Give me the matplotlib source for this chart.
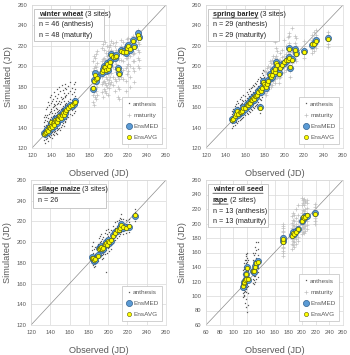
import matplotlib
matplotlib.use("Agg")
import matplotlib.pyplot as plt
from matplotlib.patches import Rectangle

plt.rcParams["font.family"] = ["Liberation Sans", "DejaVu Sans"]

# ---- winter wheat ----
obs_wa = [133, 134, 135, 136, 137, 138, 139, 140, 140, 141, 142, 143, 143, 144, 145, 146,
          146, 147, 148, 149, 150, 151, 152, 153, 154, 155, 156, 158, 160, 162, 164, 165]
med_wa = [135, 134, 137, 139, 136, 140, 142, 141, 144, 140, 143, 146, 142, 148, 145, 149,
          144, 147, 150, 152, 148, 153, 155, 151, 157, 154, 158, 160, 162, 161, 163, 166]
avg_wa = [134, 135, 136, 138, 137, 141, 140, 142, 145, 141, 144, 145, 143, 147, 146, 148,
          145, 148, 151, 150, 149, 152, 154, 152, 156, 155, 157, 159, 161, 162, 164, 165]
mod_wa = [
    [128, 132, 138, 142, 145, 150], [125, 131, 136, 140, 147, 152],
    [129, 134, 139, 143, 150, 158], [130, 135, 141, 146, 152, 160],
    [127, 133, 138, 144, 149, 165], [132, 136, 140, 145, 153, 162],
    [131, 137, 143, 148, 155, 170], [133, 138, 142, 147, 156, 164],
    [135, 140, 146, 150, 158, 172], [130, 136, 141, 149, 154, 166],
    [134, 139, 145, 151, 160, 168], [136, 141, 147, 152, 161, 175],
    [133, 138, 144, 150, 157, 163], [137, 142, 149, 154, 162, 171],
    [135, 141, 146, 152, 159, 166], [138, 144, 150, 155, 163, 178],
    [134, 140, 146, 151, 158, 169], [139, 144, 149, 156, 164, 173],
    [140, 146, 151, 157, 166, 180], [138, 145, 150, 155, 163, 176],
    [141, 146, 152, 158, 165, 170], [143, 148, 154, 159, 168, 182],
    [144, 149, 156, 161, 169, 177], [142, 148, 153, 158, 166, 174],
    [146, 151, 158, 163, 171, 179], [145, 150, 156, 162, 170, 183],
    [148, 153, 159, 164, 172, 178], [150, 155, 161, 166, 174, 181],
    [153, 158, 163, 168, 176, 185], [152, 157, 162, 167, 173, 179],
    [154, 159, 164, 169, 175, 183], [156, 161, 166, 171, 178, 185],
]
obs_wm = [184, 185, 186, 187, 188, 193, 194, 195, 196, 197, 198, 199, 200, 202, 203,
          205, 207, 208, 210, 211, 213, 215, 218, 219, 220, 222, 226, 227, 231, 232]
med_wm = [178, 187, 193, 186, 190, 193, 197, 200, 198, 195, 203, 196, 201, 205, 212,
          210, 208, 211, 198, 193, 216, 215, 213, 219, 221, 216, 226, 220, 233, 229]
avg_wm = [179, 186, 191, 188, 189, 194, 196, 199, 199, 196, 202, 197, 200, 204, 211,
          209, 209, 210, 197, 192, 215, 214, 214, 218, 220, 217, 225, 219, 231, 228]
mod_wm = [
    [165, 172, 180, 188, 195, 205], [162, 175, 183, 190, 198, 210],
    [170, 178, 186, 194, 200, 208], [168, 176, 183, 191, 199, 212],
    [172, 180, 188, 195, 203, 215], [175, 183, 190, 197, 205, 218],
    [170, 185, 192, 199, 207, 222], [178, 186, 194, 201, 208, 216],
    [176, 184, 193, 200, 206, 224], [174, 182, 190, 198, 205, 213],
    [180, 188, 196, 203, 210, 220], [172, 184, 192, 200, 207, 215],
    [179, 187, 195, 202, 211, 219], [183, 190, 198, 205, 212, 221],
    [185, 193, 201, 208, 216, 225], [182, 190, 199, 207, 214, 223],
    [176, 188, 197, 205, 213, 220], [186, 194, 202, 209, 216, 224],
    [170, 180, 190, 200, 208, 215], [168, 178, 188, 198, 206, 214],
    [190, 198, 206, 213, 220, 226], [188, 196, 205, 212, 218, 224],
    [176, 186, 198, 208, 215, 222], [192, 200, 208, 215, 221, 227],
    [195, 202, 210, 216, 222, 228], [180, 190, 200, 210, 218, 225],
    [198, 205, 212, 219, 225, 230], [185, 195, 205, 213, 220, 228],
    [200, 208, 216, 224, 230, 236], [198, 206, 214, 222, 228, 234],
]

# ---- spring barley ----
obs_sa = [147, 148, 150, 151, 152, 153, 155, 156, 157, 158, 160, 162, 163, 164, 165,
          166, 167, 168, 169, 170, 171, 172, 173, 175, 175, 176, 177, 178, 179]
med_sa = [148, 147, 150, 155, 157, 152, 154, 156, 155, 160, 158, 163, 161, 165, 163,
          168, 166, 170, 167, 172, 170, 173, 176, 160, 178, 175, 180, 186, 184]
avg_sa = [147, 148, 151, 153, 156, 153, 155, 155, 156, 159, 159, 162, 162, 164, 164,
          167, 167, 169, 168, 171, 171, 172, 175, 159, 177, 176, 179, 185, 183]
mod_sa = [
    [140, 144, 150, 153, 156], [142, 146, 151, 155, 158], [143, 147, 152, 157, 161],
    [145, 149, 154, 158, 163], [144, 150, 155, 160, 166], [146, 151, 156, 160, 164],
    [147, 152, 157, 162, 168], [148, 153, 158, 163, 170], [149, 154, 159, 164, 167],
    [150, 156, 161, 166, 172], [152, 157, 162, 167, 171], [154, 159, 164, 169, 175],
    [153, 158, 163, 168, 173], [156, 161, 166, 171, 178], [155, 160, 165, 170, 176],
    [158, 163, 168, 173, 179], [157, 162, 167, 172, 180], [160, 165, 170, 175, 182],
    [159, 164, 169, 174, 181], [161, 166, 172, 177, 184], [162, 167, 173, 178, 183],
    [163, 168, 174, 179, 186], [165, 170, 176, 181, 188], [154, 158, 163, 168, 176],
    [168, 173, 179, 184, 190], [167, 172, 177, 183, 189], [170, 175, 181, 186, 193],
    [175, 180, 186, 191, 196], [174, 179, 185, 190, 195],
]
obs_sm = [180, 181, 182, 183, 185, 186, 187, 188, 190, 191, 192, 193, 195, 196, 198,
          200, 202, 204, 205, 205, 206, 208, 211, 212, 220, 228, 230, 232, 245]
med_sm = [182, 179, 184, 187, 192, 189, 190, 196, 193, 198, 204, 200, 193, 199, 202,
          203, 205, 207, 209, 218, 198, 207, 217, 213, 215, 221, 223, 226, 228]
avg_sm = [181, 180, 183, 186, 191, 190, 191, 195, 194, 197, 203, 201, 192, 198, 201,
          204, 206, 206, 208, 217, 199, 206, 216, 212, 214, 222, 222, 225, 227]
mod_sm = [
    [174, 178, 184, 189, 195], [172, 177, 182, 188, 194], [176, 181, 186, 192, 198],
    [178, 183, 189, 194, 200], [183, 188, 194, 199, 205], [180, 186, 191, 197, 203],
    [182, 187, 192, 198, 206], [186, 191, 197, 202, 210], [184, 189, 195, 200, 208],
    [188, 193, 199, 204, 224], [192, 198, 204, 210, 218], [190, 196, 201, 207, 215],
    [184, 189, 194, 199, 206], [190, 195, 201, 206, 213], [193, 198, 204, 209, 216],
    [194, 199, 205, 210, 226], [196, 201, 206, 212, 220], [197, 203, 208, 214, 229],
    [200, 205, 211, 216, 230], [206, 212, 218, 223, 233], [190, 195, 200, 206, 214],
    [198, 203, 209, 214, 237], [207, 212, 218, 223, 230], [205, 210, 215, 220, 228],
    [208, 212, 216, 220, 225], [213, 217, 222, 226, 231], [215, 219, 224, 228, 234],
    [218, 222, 227, 231, 236], [219, 222, 227, 231, 234],
]

# ---- silage maize ----
obs_ma = [183, 184, 185, 186, 189, 191, 192, 193, 194, 195, 197, 198, 199,
          200, 201, 203, 205, 207, 209, 211, 212, 213, 215, 218, 222, 228]
med_ma = [186, 184, 182, 183, 188, 194, 195, 196, 192, 193, 197, 200, 198,
          202, 199, 201, 207, 210, 211, 213, 215, 218, 214, 215, 215, 225]
avg_ma = [185, 185, 183, 184, 187, 193, 194, 195, 193, 194, 198, 199, 197,
          201, 200, 202, 206, 209, 212, 212, 214, 217, 215, 214, 216, 226]
mod_ma = [
    [180, 184, 188, 192, 196], [178, 182, 186, 190, 200], [176, 180, 184, 188, 193],
    [177, 181, 185, 189, 195], [182, 186, 190, 194, 198], [186, 190, 194, 198, 204],
    [187, 191, 196, 200, 206], [188, 192, 197, 201, 208], [184, 188, 193, 197, 203],
    [185, 189, 194, 198, 205], [189, 193, 198, 202, 209], [171, 192, 199, 204, 212],
    [190, 195, 199, 203, 208], [194, 198, 202, 206, 213], [191, 195, 200, 204, 210],
    [193, 197, 202, 206, 212], [199, 203, 207, 211, 216], [202, 206, 210, 214, 219],
    [204, 208, 212, 216, 220], [206, 210, 213, 217, 221], [208, 211, 215, 219, 223],
    [210, 214, 218, 222, 227], [208, 211, 214, 218, 222], [209, 212, 215, 218, 221],
    [210, 213, 216, 219, 222], [220, 223, 226, 229, 232],
]

# ---- winter oil seed rape ----
obs_oa = [114, 115, 116, 117, 118, 119, 120, 121, 129, 130, 131, 133, 136]
med_oa = [113, 117, 119, 121, 124, 131, 140, 122, 134, 133, 141, 146, 148]
avg_oa = [114, 118, 120, 122, 123, 130, 138, 123, 135, 134, 140, 145, 147]
mod_oa = [
    [98, 104, 109, 113, 118, 124, 130, 136], [100, 106, 111, 116, 121, 127, 133, 140],
    [102, 108, 113, 118, 124, 130, 137, 145], [90, 107, 114, 120, 126, 133, 141, 150],
    [85, 105, 115, 122, 129, 136, 145, 155], [96, 110, 120, 127, 134, 142, 150, 158],
    [78, 112, 125, 133, 140, 147, 153, 160], [88, 104, 114, 121, 128, 135, 142, 150],
    [118, 124, 129, 133, 137, 142, 150, 160], [116, 122, 128, 132, 136, 141, 148, 157],
    [120, 127, 133, 138, 143, 150, 160, 167], [124, 130, 136, 141, 146, 153, 163, 175],
    [126, 133, 139, 144, 149, 156, 165, 175],
]
obs_om = [172, 173, 185, 187, 188, 191, 195, 200, 201, 203, 205, 207, 219]
med_om = [176, 180, 184, 188, 185, 189, 193, 204, 208, 208, 210, 211, 214]
avg_om = [174, 179, 183, 187, 186, 188, 192, 203, 209, 207, 209, 212, 213]
mod_om = [
    [155, 162, 168, 173, 178, 184, 190, 197], [160, 166, 172, 177, 182, 188, 194, 200],
    [165, 172, 178, 183, 188, 194, 201, 210], [170, 176, 182, 187, 192, 198, 205, 215],
    [168, 174, 180, 185, 190, 196, 203, 212], [172, 178, 184, 189, 194, 200, 208, 220],
    [176, 182, 188, 192, 197, 204, 212, 225], [185, 192, 198, 203, 208, 215, 225, 235],
    [188, 195, 201, 206, 211, 218, 228, 232], [187, 194, 200, 205, 210, 217, 226, 234],
    [190, 197, 203, 208, 213, 220, 229, 231], [192, 198, 204, 209, 214, 221, 228, 233],
    [199, 203, 207, 211, 215, 219, 223, 227],
]

GRID = "#d9d9d9"
TXT = "#595959"


def flat(obs, mods):
    xs, ys = [], []
    for o, row in zip(obs, mods):
        for v in row:
            xs.append(o)
            ys.append(v)
    return xs, ys


def panel(rect, lo, stages, title, rest, lines, box_w, box_h):
    ax = fig.add_axes(rect)
    ax.set_xlim(lo, 260)
    ax.set_ylim(lo, 260)
    ticks = list(range(lo, 261, 20))
    ax.set_xticks(ticks)
    ax.set_yticks(ticks)
    ax.grid(True, color=GRID, lw=0.5)
    ax.set_axisbelow(True)
    for s in ax.spines.values():
        s.set_color(GRID)
        s.set_linewidth(0.5)
    ax.tick_params(length=0, labelsize=4.2, labelcolor=TXT, pad=3.5)
    ax.plot([lo, 260], [lo, 260], color="#8c8c8c", lw=0.5, zorder=1)

    handles = []
    for name, obs, med, avg, mods in stages:
        xs, ys = flat(obs, mods)
        if name == "anthesis":
            h, = ax.plot(xs, ys, ls="none", marker="s", ms=0.9, mew=0,
                         color="#595959", label="anthesis", zorder=2)
        else:
            h, = ax.plot(xs, ys, ls="none", marker="+", ms=2.4, mew=0.5,
                         color="#c0c0c0", label="maturity", zorder=2)
        handles.append(h)
    for name, obs, med, avg, mods in stages:
        hm, = ax.plot(obs, med, ls="none", marker="o", ms=4.4, mfc="#5b9bd5",
                      mec="#2f5f8f", mew=0.5, label="EnsMED", zorder=3)
        ha, = ax.plot(obs, avg, ls="none", marker="o", ms=3.0, mfc="#ffff00",
                      mec="#555500", mew=0.4, label="EnsAVG", zorder=4)
    handles += [hm, ha]

    leg = ax.legend(handles=handles, loc="lower right", fontsize=4.6,
                    frameon=True, fancybox=False, framealpha=1,
                    edgecolor="#bfbfbf", borderaxespad=0.6, handletextpad=0.1,
                    handlelength=1.0, labelspacing=0.9, borderpad=0.6,
                    markerscale=1.0)
    leg.get_frame().set_linewidth(0.5)
    for t in leg.get_texts():
        t.set_color(TXT)

    ax.set_xlabel("Observed (JD)", fontsize=6.6, color=TXT, labelpad=8)
    ax.set_ylabel("Simulated (JD)", fontsize=6.6, color=TXT, labelpad=3)

    # info box in the upper left corner
    ax.add_patch(Rectangle((0.015, 0.975 - box_h), box_w, box_h,
                           transform=ax.transAxes, facecolor="white",
                           edgecolor="#bfbfbf", lw=0.6, zorder=5))
    y = 0.925
    step = 0.075
    fs = 5.2
    for i, part in enumerate(title):
        tb = ax.text(0.05, y, part, transform=ax.transAxes, fontsize=fs,
                     fontweight="bold", color="#262626", va="baseline", zorder=6)
        ax.annotate("", xy=(0, -0.05), xycoords=tb, xytext=(1, -0.05),
                    textcoords=tb, arrowprops=dict(arrowstyle="-", lw=0.5,
                                                   color="#262626",
                                                   shrinkA=0, shrinkB=0),
                    zorder=6)
        if i == len(title) - 1:
            ax.annotate(rest, xy=(1, 0), xycoords=tb, xytext=(1.5, 0),
                        textcoords="offset points", fontsize=fs, color="#262626",
                        va="bottom", zorder=6)
        y -= step
    for line in lines:
        ax.text(0.05, y, line, transform=ax.transAxes, fontsize=fs,
                color="#262626", va="baseline", zorder=6)
        y -= step
    return ax


fig = plt.figure(figsize=(3.5, 3.55), dpi=100)
W, H = 350.0, 355.0


def rect(l, t, r, b):
    return [l / W, 1 - b / H, (r - l) / W, (b - t) / H]


panel(rect(32, 5, 166, 148), 120,
      [("anthesis", obs_wa, med_wa, avg_wa, mod_wa),
       ("maturity", obs_wm, med_wm, avg_wm, mod_wm)],
      ["winter wheat"], "(3 sites)",
      ["n = 46 (anthesis)", "n = 48 (maturity)"], 0.52, 0.23)

panel(rect(206, 5, 343, 148), 120,
      [("anthesis", obs_sa, med_sa, avg_sa, mod_sa),
       ("maturity", obs_sm, med_sm, avg_sm, mod_sm)],
      ["spring barley"], "(3 sites)",
      ["n = 29 (anthesis)", "n = 29 (maturity)"], 0.52, 0.23)

panel(rect(31, 180, 166, 325), 120,
      [("anthesis", obs_ma, med_ma, avg_ma, mod_ma)],
      ["silage maize"], "(3 sites)",
      ["n = 26"], 0.54, 0.17)

panel(rect(206, 180, 343, 325), 60,
      [("anthesis", obs_oa, med_oa, avg_oa, mod_oa),
       ("maturity", obs_om, med_om, avg_om, mod_om)],
      ["winter oil seed", "rape"], "(2 sites)",
      ["n = 13 (anthesis)", "n = 13 (maturity)"], 0.44, 0.3)

fig.savefig("out.png", dpi=100)
